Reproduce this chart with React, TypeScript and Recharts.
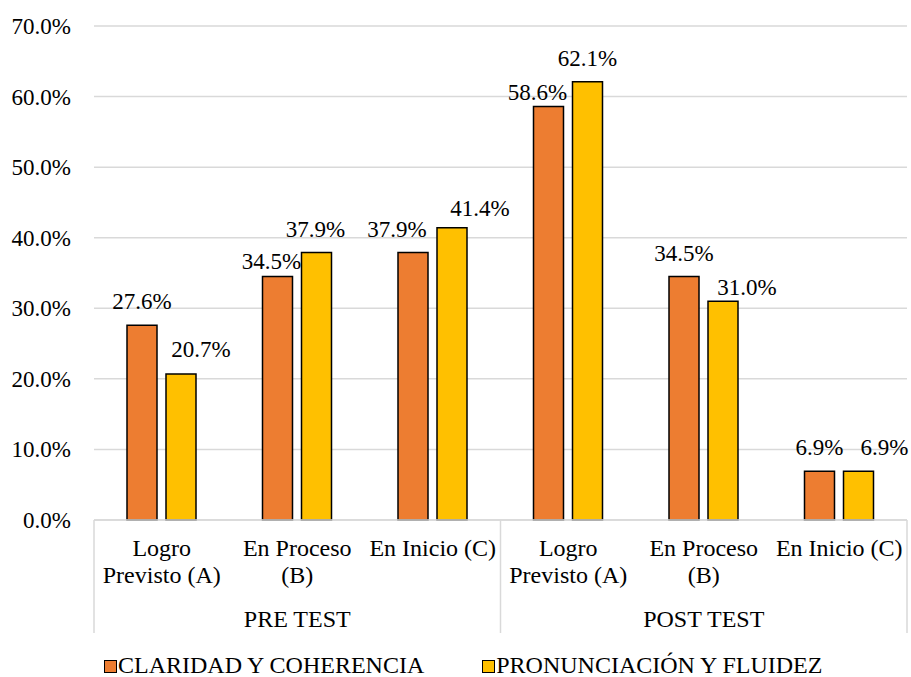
import React from "react";
import { BarChart, Bar, XAxis, YAxis, CartesianGrid, Legend, LabelList } from "recharts";

const categoryLines: string[][] = [
  ["Logro", "Previsto (A)"],
  ["En Proceso", "(B)"],
  ["En Inicio (C)"],
  ["Logro", "Previsto (A)"],
  ["En Proceso", "(B)"],
  ["En Inicio (C)"],
];
const groups = ["PRE TEST", "POST TEST"];
const claridad = [27.6, 34.5, 37.9, 58.6, 34.5, 6.9];
const pronunciacion = [20.7, 37.9, 41.4, 62.1, 31.0, 6.9];
const yTicks = [0, 10, 20, 30, 40, 50, 60, 70];
const seriesNames = ["CLARIDAD Y COHERENCIA", "PRONUNCIACIÓN Y FLUIDEZ"];
const seriesColors = ["#ED7D31", "#FFC000"];

// Manual label nudges (dx, dy) as placed in the original chart
const nudgeClaridad = [[0, 0], [-6, 8], [-16, 0], [-11, 10], [0, 0], [0, 0]];
const nudgePronunciacion = [[20, -1], [-1, 0], [28, 4], [0, 0], [24, 10], [26, 0]];

const data = categoryLines.map((lines, i) => ({
  key: `${groups[Math.floor(i / 3)]}-${lines.join(" ")}`,
  claridad: claridad[i],
  pronunciacion: pronunciacion[i],
}));

const FONT = "'Liberation Serif', 'Times New Roman', Times, serif";
const GRID = "#d9d9d9";
const textStyle = (size: number): React.CSSProperties => ({ fontFamily: FONT, fontSize: size, fill: "#000" });

const fmt = (v: number) => `${Number(v).toFixed(1)}%`;

const CategoryTick = (props: any) => {
  const { x, y, payload, index, width, visibleTicksCount } = props;
  const half =
    payload && typeof payload.offset === "number" && payload.offset > 0
      ? payload.offset
      : width / (visibleTicksCount || 6) / 2;
  const lines = categoryLines[index] || [];
  const last = categoryLines.length - 1;
  return (
    <g>
      <text x={x} y={y + 36} textAnchor="middle" style={textStyle(24)}>
        {lines.map((l, i) => (
          <tspan key={i} x={x} dy={i === 0 ? 0 : 27}>
            {l}
          </tspan>
        ))}
      </text>
      {index % 3 === 1 && (
        <text x={x} y={y + 107} textAnchor="middle" style={textStyle(24)}>
          {groups[Math.floor(index / 3)]}
        </text>
      )}
      {index % 3 === 0 && (
        <line x1={x - half} x2={x - half} y1={y} y2={y + 113} stroke={GRID} strokeWidth={1.5} />
      )}
      {index === last && (
        <line x1={x + half} x2={x + half} y1={y} y2={y + 113} stroke={GRID} strokeWidth={1.5} />
      )}
    </g>
  );
};

const ValueTick = (props: any) => {
  const { x, y, payload } = props;
  return (
    <text x={x} y={y + 8} textAnchor="end" style={textStyle(23)}>
      {fmt(payload.value)}
    </text>
  );
};

const makeLabel = (nudges: number[][]) => (props: any) => {
  const { x, y, width, value, index } = props;
  const n = nudges[index] || [0, 0];
  return (
    <text x={Number(x) + Number(width) / 2 + n[0]} y={Number(y) - 16 + n[1]} textAnchor="middle" style={textStyle(23)}>
      {fmt(value)}
    </text>
  );
};

const LegendContent = () => (
  <div
    style={{
      height: 37,
      boxSizing: "border-box",
      paddingTop: 13,
      paddingLeft: 104,
      display: "flex",
      alignItems: "flex-start",
      fontFamily: FONT,
      fontSize: 24,
      lineHeight: "24px",
      color: "#000",
    }}
  >
    {seriesNames.map((name, i) => (
      <div key={name} style={{ display: "flex", alignItems: "center", marginRight: 58 }}>
        <span
          style={{
            display: "inline-block",
            width: 11,
            height: 11,
            background: seriesColors[i],
            border: "1.5px solid #000",
            marginRight: 1,
            marginTop: 2,
          }}
        />
        <span>{name}</span>
      </div>
    ))}
  </div>
);

export default function App() {
  return (
    <div style={{ position: "absolute", left: 0, top: 0, width: 911, height: 677, background: "#fff" }}>
      <BarChart
        width={911}
        height={677}
        data={data}
        margin={{ top: 26, right: 4, left: 0, bottom: 0 }}
        barSize={30}
        barGap={9}
      >
        <CartesianGrid vertical={false} stroke={GRID} strokeWidth={1.5} />
        <XAxis
          dataKey="key"
          interval={0}
          height={120}
          tickLine={false}
          tickSize={0}
          tickMargin={0}
          axisLine={{ stroke: GRID, strokeWidth: 1.5 }}
          tick={<CategoryTick />}
        />
        <YAxis
          domain={[0, 70]}
          ticks={yTicks}
          interval={0}
          width={94}
          axisLine={false}
          tickLine={false}
          tickSize={0}
          tickMargin={23}
          tick={<ValueTick />}
        />
        <Legend verticalAlign="bottom" content={<LegendContent />} />
        <Bar dataKey="claridad" name={seriesNames[0]} fill={seriesColors[0]} stroke="#000" strokeWidth={1.5} isAnimationActive={false}>
          <LabelList dataKey="claridad" content={makeLabel(nudgeClaridad)} />
        </Bar>
        <Bar dataKey="pronunciacion" name={seriesNames[1]} fill={seriesColors[1]} stroke="#000" strokeWidth={1.5} isAnimationActive={false}>
          <LabelList dataKey="pronunciacion" content={makeLabel(nudgePronunciacion)} />
        </Bar>
      </BarChart>
    </div>
  );
}
